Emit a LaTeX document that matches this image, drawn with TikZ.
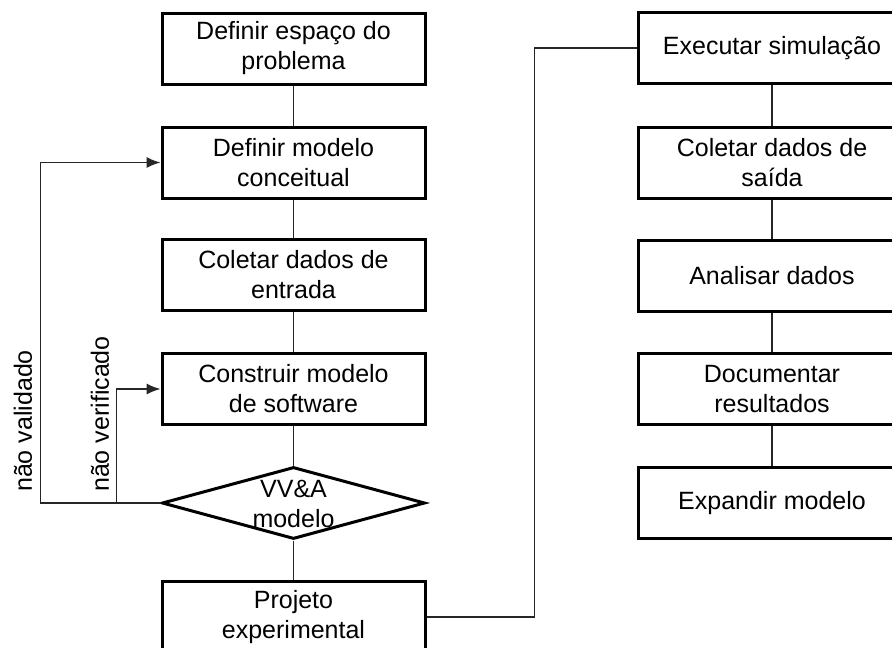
\documentclass[tikz,border=0pt]{standalone}
\usepackage{fontspec}
\setmainfont{Liberation Sans}
\usetikzlibrary{shapes.geometric,arrows.meta}
\begin{document}
\begin{tikzpicture}[x=1pt,y=-1pt,
  txt/.style={font=\fontsize{25}{30}\selectfont, align=center},
  box/.style={txt, draw, line width=3pt, minimum width=263pt, minimum height=71pt, inner sep=0pt},
  rbox/.style={box, minimum width=268pt},
  conn/.style={line width=1.3pt, draw=black!85},
  arr/.style={conn, -{Latex[length=14pt,width=11pt]}}]
\useasboundingbox (0,0) rectangle (892,648);
% left column
\node[box] (b1) at (293.5,48.5) {Definir espaço do\\problema};
\node[box] (b2) at (293.5,162.5) {Definir modelo\\conceitual};
\node[box] (b3) at (293.5,275) {Coletar dados de\\entrada};
\node[box] (b4) at (293.5,389) {Construir modelo\\de software};
\node[diamond, draw, line width=3pt, minimum width=263pt, minimum height=72pt, inner sep=0pt] (d) at (293.5,503) {};
\node[txt] (dt) at (293.5,504) {VV\&A\\modelo};
\node[box] (p) at (293.5,617) {Projeto\\experimental};
% right column
\node[rbox] (r1) at (772,48) {Executar simulação};
\node[rbox] (r2) at (772,162.5) {Coletar dados de\\saída};
\node[rbox] (r3) at (772,275.5) {Analisar dados};
\node[rbox] (r4) at (772,389) {Documentar\\resultados};
\node[rbox] (r5) at (772,503) {Expandir modelo};
% connectors
\draw[conn] (b1.south) -- (b2.north);
\draw[conn] (b2.south) -- (b3.north);
\draw[conn] (b3.south) -- (b4.north);
\draw[conn] (b4.south) -- (d.north);
\draw[conn] (d.south) -- (p.north);
\draw[conn] (r1.south) -- (r2.north);
\draw[conn] (r2.south) -- (r3.north);
\draw[conn] (r3.south) -- (r4.north);
\draw[conn] (r4.south) -- (r5.north);
\draw[conn] (p.east) -- ++(108,0) |- (r1.west);
\draw[arr] (d.west) -- ++(-120,0) |- (b2.west);
\draw[arr] (d.west) -- ++(-44,0) |- (b4.west);
% labels
\node[txt, rotate=90] (lv) at (23,421) {não validado};
\node[txt, rotate=90] (lf) at (100,414) {não verificado};
\end{tikzpicture}
\end{document}
